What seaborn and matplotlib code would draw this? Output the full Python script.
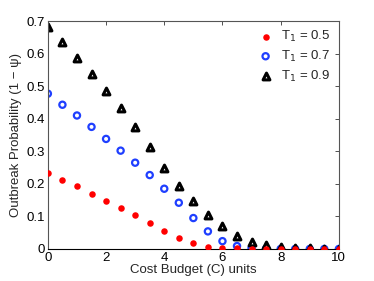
import matplotlib
matplotlib.use("Agg")
import numpy as np
import pandas as pd
import matplotlib.pyplot as plt
import seaborn as sns

# data
budget = [0, 0.5, 1, 1.5, 2, 2.5, 3, 3.5, 4, 4.5, 5, 5.5, 6, 6.5, 7, 7.5, 8, 8.5, 9, 9.5, 10]
p_t05 = [0.233, 0.212, 0.192, 0.170, 0.148, 0.127, 0.103, 0.080, 0.056, 0.034, 0.017,
         0.007, 0.004, 0.002, 0.001, 0, 0, 0, 0, 0, 0]
p_t07 = [0.477, 0.443, 0.410, 0.375, 0.338, 0.302, 0.265, 0.227, 0.185, 0.142, 0.095,
         0.054, 0.024, 0.009, 0.003, 0.001, 0, 0, 0, 0, 0]
p_t09 = [0.683, 0.635, 0.587, 0.537, 0.485, 0.432, 0.375, 0.312, 0.250, 0.192, 0.147,
         0.104, 0.071, 0.040, 0.021, 0.011, 0.006, 0.003, 0.002, 0.001, 0]
labels = ["T$_1$ = 0.5", "T$_1$ = 0.7", "T$_1$ = 0.9"]

sns.set_style("white")
plt.rcParams['font.family'] = ['Liberation Sans', 'DejaVu Sans']

fig = plt.figure(figsize=(3.74, 2.81), dpi=100)
ax = fig.add_axes([0.128, 0.114, 0.778, 0.811])

sns.scatterplot(x=budget, y=p_t05, ax=ax, color="red", marker="o", s=22,
                edgecolor="red", linewidth=0, label=labels[0], zorder=3)
sns.scatterplot(x=budget, y=p_t07, ax=ax, marker="o", s=20, facecolor="none",
                edgecolor="#1f3fff", linewidth=1.6, label=labels[1], zorder=2)
sns.scatterplot(x=budget, y=p_t09, ax=ax, marker="^", s=24, facecolor="white",
                edgecolor="black", linewidth=2.2, label=labels[2], zorder=2)

ax.set_xlim(0, 10)
ax.set_ylim(0, 0.7)
ax.set_xticks([0, 2, 4, 6, 8, 10])
ax.set_xticklabels(["0", "2", "4", "6", "8", "10"])
ax.set_yticks([0, 0.1, 0.2, 0.3, 0.4, 0.5, 0.6, 0.7])
ax.set_yticklabels(["0", "0.1", "0.2", "0.3", "0.4", "0.5", "0.6", "0.7"])
ax.tick_params(direction="in", length=3, width=0.6, labelsize=9.5, pad=2,
               top=True, right=True, colors="#333333", labelcolor="black")
for sp in ax.spines.values():
    sp.set_color("#555555")
    sp.set_linewidth(0.8)
ax.spines["bottom"].set_color("black")

ax.set_xlabel("Cost Budget (C) units", fontsize=9.5, labelpad=0)
ax.set_ylabel("Outbreak Probability (1 \u2212 \u03c8)", fontsize=9.5, labelpad=3)

ax.legend(loc="upper right", frameon=False, fontsize=9.5, handletextpad=0.2,
          borderaxespad=0.2, labelspacing=0.35, markerscale=1.0)

fig.savefig("out.png", dpi=100)
